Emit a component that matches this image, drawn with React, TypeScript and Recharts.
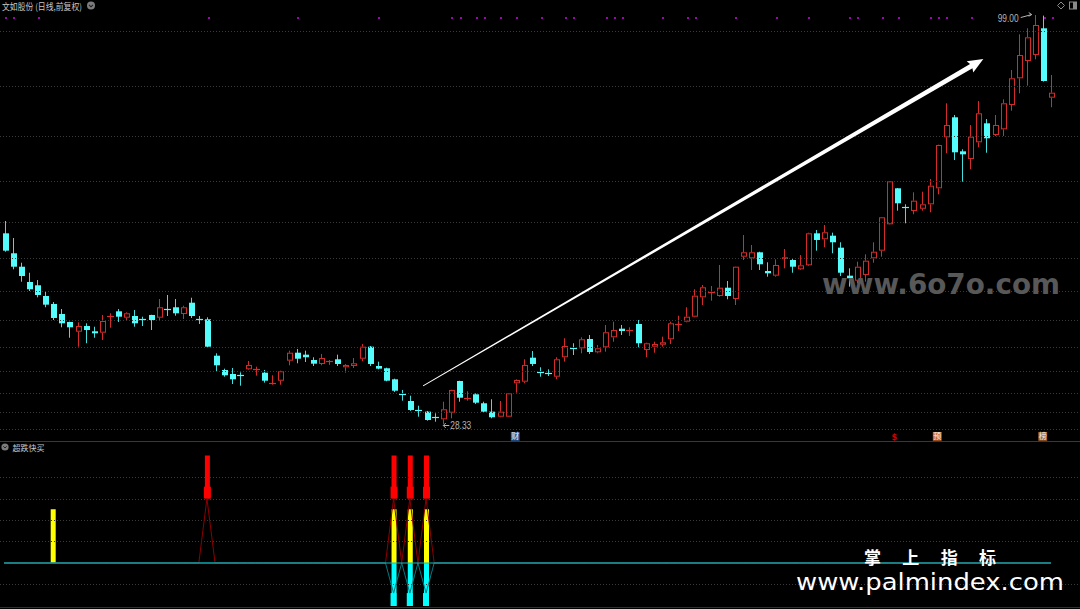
import React from 'react';
import { ComposedChart, Bar, Line, XAxis, YAxis, ReferenceLine, ReferenceDot } from 'recharts';

// ---------- price data (daily candles, 前复权) ----------
const opens = [61.28,57.83,55.51,52.87,52.30,50.45,49.07,47.34,45.96,44.28,45.26,44.35,44.11,46.87,47.80,46.70,46.99,46.53,47.17,46.70,48.25,48.50,47.34,49.29,46.59,46.42,40.13,37.66,36.97,36.92,37.78,37.71,37.19,35.24,35.81,39.27,40.65,40.31,39.39,38.70,39.10,39.51,38.13,38.35,39.61,41.69,38.35,37.96,36.05,33.60,32.30,30.80,30.46,29.65,29.14,30.28,35.76,32.75,33.46,31.91,30.46,29.59,29.59,35.36,35.64,39.79,37.45,37.25,36.50,39.86,41.50,41.41,43.02,40.72,41.58,43.31,44.80,44.45,45.61,41.12,41.69,42.03,42.97,45.60,46.01,46.87,50.22,51.10,50.45,51.88,49.93,57.24,56.96,58.00,54.77,53.96,56.84,56.67,55.06,55.75,61.28,60.25,60.87,58.80,53.96,53.09,54.08,56.96,58.28,62.84,69.06,65.95,65.14,65.53,66.29,69.06,77.87,81.33,75.45,74.12,77.01,80.29,78.27,79.25,83.45,88.07,91.06,92.09,96.71,84.72];
const highs = [63.41,60.47,56.20,54.47,53.21,51.31,49.41,48.20,46.01,45.90,45.73,45.14,47.17,47.46,48.20,47.63,48.03,46.87,47.20,49.93,50.62,49.93,48.77,50.15,46.99,46.77,40.55,37.89,38.01,37.26,39.22,38.23,37.66,36.75,37.54,41.00,41.29,41.00,39.86,40.43,39.39,40.31,38.70,39.73,42.15,41.81,39.10,38.06,36.16,34.21,33.22,31.49,30.58,30.18,32.18,34.25,35.80,33.98,33.63,32.18,32.60,32.30,33.65,36.05,39.51,40.94,38.13,37.78,39.86,43.14,42.28,43.31,43.71,41.98,45.44,46.01,45.44,45.04,46.30,42.38,42.55,43.42,46.01,47.04,48.50,51.61,52.35,52.18,55.81,53.04,55.55,60.99,59.26,58.10,56.27,56.79,58.57,56.96,57.53,61.39,61.85,62.72,61.39,59.73,55.23,56.38,57.65,59.73,64.10,70.30,69.10,66.29,68.37,68.47,70.67,76.60,83.75,81.73,75.80,80.00,84.14,81.03,81.73,84.44,89.50,95.67,96.71,99.00,98.90,88.64];
const lows = [58.10,55.06,52.92,51.31,50.22,48.50,46.30,45.04,43.24,41.69,42.28,43.24,42.85,44.97,45.96,46.18,45.14,45.26,44.57,46.30,46.99,47.04,46.47,46.65,45.61,41.60,37.37,36.50,35.24,34.95,37.66,36.68,35.47,35.12,35.12,38.47,38.82,39.04,38.35,38.47,38.53,38.35,37.19,38.01,39.16,38.35,37.78,35.71,33.86,32.36,30.58,29.59,28.90,28.73,28.33,29.31,32.18,32.36,31.79,30.35,29.31,29.49,29.55,33.74,35.36,38.35,36.50,36.62,36.05,39.10,40.25,40.55,40.43,40.55,40.82,42.55,43.71,43.54,41.58,39.86,40.65,41.69,42.15,44.40,45.90,46.77,48.89,49.64,50.33,49.88,48.89,56.67,54.94,54.94,53.78,53.78,55.23,54.47,54.94,55.63,58.28,58.86,57.83,53.90,52.06,52.64,52.92,56.20,57.24,62.80,65.19,63.01,64.57,65.19,64.91,68.02,75.11,73.95,70.20,72.34,76.14,75.21,78.10,78.10,82.47,85.47,86.79,91.35,87.50,83.06];
const closes = [58.28,55.51,53.90,51.61,50.62,48.95,46.65,45.73,45.04,45.26,44.57,44.00,46.13,47.11,46.87,47.46,45.73,46.30,46.30,48.50,48.03,47.46,48.50,46.99,46.35,41.69,38.47,36.75,36.05,36.68,38.53,37.89,35.81,35.47,37.44,40.65,39.61,39.86,38.75,39.73,39.27,38.70,38.53,38.82,41.69,38.70,37.89,35.81,34.08,33.45,30.75,30.70,29.02,29.55,30.87,34.21,32.87,32.85,32.01,30.46,29.49,30.46,33.63,35.93,38.53,38.70,37.30,37.15,39.51,41.81,41.35,42.97,40.77,41.41,44.18,44.57,44.40,44.60,42.28,42.28,42.15,42.45,45.73,45.75,46.87,50.50,51.95,51.25,51.88,50.45,55.51,58.00,58.00,55.93,54.37,55.81,57.14,55.51,55.75,61.28,60.13,61.46,59.73,54.47,53.51,55.51,56.55,58.10,64.05,70.27,66.47,65.80,66.92,66.29,69.51,76.54,80.00,75.28,74.93,77.98,82.02,77.70,80.00,83.75,88.07,92.09,95.15,97.28,87.60,85.58];

// event dots on the top row (days with notices)
const eventDays = [0,1,4,25,36,46,55,56,58,59,61,63,66,69,70,74,75,76,81,84,85,90,95,99,104,105,108,110,114,115,116,119,128,129];
// info markers under the candles
const infoDays = [63, 110, 115, 128];
const infoTexts = ['财', '$', '预', '榜'];
// price grid levels (equal-ratio)
const gridPrices = [27.38, 30.41, 33.76, 37.49, 41.63, 46.23, 51.33, 57.0, 63.3, 70.28, 78.04, 86.66, 96.23];
const maxDay = 127; const maxPrice = 99.0;
const minDay = 54; const minPrice = 28.33;
// trend arrow (day, price)
const arrowFrom = { x: 51.63, y: 34.9 };
const arrowTo = { x: 120.67, y: 91.4 };

// ---------- 超跌快买 indicator ----------
const yellowDays = [6, 48, 50, 52];
const redDays = [25, 48, 50, 52];
const cyanDays = [48, 50, 52];
const yellowTop = 50;
const redLow = 60, redHigh = 100, redHeadTop = 71;
const redLineVal = 60;
const cyanLineVal = -28;
const cyanBottom = -40;
const subGrid = [80, 60, 40, 20, -20];

const N = opens.length;
const EVENT_Y = 98.49;
const INFO_Y = 26.26;

const priceData = opens.map((o, i) => ({
  i, o, h: highs[i], l: lows[i], c: closes[i],
  mk: eventDays.includes(i) ? EVENT_Y : null,
}));

const subData = opens.map((_, i) => ({
  i,
  zero: 0,
  redLine: redDays.includes(i) ? redLineVal : 0,
  cyanLine: cyanDays.includes(i) ? cyanLineVal : 0,
  yel: yellowDays.includes(i) ? [0, yellowTop] : null,
  redStick: redDays.includes(i) ? [redLow, redHigh] : null,
  redHead: redDays.includes(i) ? [redLow, redHeadTop] : null,
  cyanStick: cyanDays.includes(i) ? [cyanBottom, 0] : null,
  cyanFoot: cyanDays.includes(i) ? [cyanBottom, cyanLineVal] : null,
}));

const RED = '#d42c2a';
const CYAN = '#54fcfc';
const CYAN_WICK = '#44dcdc';
const GRID = '#3a3a3a';
const MARGIN = { top: 0, right: 25, bottom: 0, left: 0 };

const CandleShape = (props: any) => {
  const { x, y, width, height, payload } = props;
  if (!payload || height == null || isNaN(y)) return <g />;
  const { o, h, l, c } = payload;
  const k = h > l ? height / (h - l) : 0;
  const py = (v: number) => y + (h - v) * k;
  const cx = Math.round(x + width / 2);
  const wx = cx + 0.5;
  const up = c >= o;
  const bt = py(Math.max(o, c));
  const bb = py(Math.min(o, c));
  const bodyCol = up ? RED : CYAN;
  const wickCol = up ? RED : CYAN_WICK;
  if (bb - bt < 1.6) {
    const ym = Math.round((bt + bb) / 2) + 0.5;
    return (
      <g>
        <line x1={wx} x2={wx} y1={py(h)} y2={py(l)} stroke={wickCol} strokeWidth={1} />
        <line x1={cx - 3} x2={cx + 4} y1={ym} y2={ym} stroke={bodyCol} strokeWidth={1.2} />
      </g>
    );
  }
  if (up) {
    return (
      <g>
        <line x1={wx} x2={wx} y1={py(h)} y2={bt} stroke={wickCol} strokeWidth={1} />
        <line x1={wx} x2={wx} y1={bb} y2={py(l)} stroke={wickCol} strokeWidth={1} />
        <rect x={cx - 1.5} y={bt + 0.5} width={5} height={Math.max(bb - bt - 1, 0.5)} fill="#000" stroke={RED} strokeWidth={1} />
      </g>
    );
  }
  return (
    <g>
      <line x1={wx} x2={wx} y1={py(h)} y2={py(l)} stroke={wickCol} strokeWidth={1} />
      <rect x={cx - 2} y={bt} width={6} height={bb - bt} fill={CYAN} />
    </g>
  );
};

const GridShape = (p: any) => {
  const yy = Math.round(p.y1) + 0.5;
  return <line x1={0} x2={1080} y1={yy} y2={yy} stroke={GRID} strokeWidth={1} strokeDasharray="1 2" />;
};

const MarkDot = (p: any) => {
  const { cx, cy, value, index } = p;
  if (value == null || cy == null || isNaN(cy)) return <g key={`md${index}`} />;
  return <rect key={`md${index}`} x={Math.round(cx) + 1} y={Math.round(cy) - 1} width={2} height={2} fill="#a400b8" />;
};

const ArrowShape = (p: any) => {
  const { x1, y1, x2, y2 } = p;
  const dx = x2 - x1, dy = y2 - y1;
  const len = Math.hypot(dx, dy) || 1;
  const ux = dx / len, uy = dy / len;
  const nx = -uy, ny = ux;
  const headL = 14, headW = 6.5, w0 = 0.45, w1 = 2.4;
  const bx = x2 - ux * headL, by = y2 - uy * headL;
  const cbx = x2 - ux * (headL + 1.5), cby = y2 - uy * (headL + 1.5);
  const pts = [
    [x1 + nx * w0, y1 + ny * w0],
    [bx + nx * w1, by + ny * w1],
    [cbx + nx * headW, cby + ny * headW],
    [x2, y2],
    [cbx - nx * headW, cby - ny * headW],
    [bx - nx * w1, by - ny * w1],
    [x1 - nx * w0, y1 - ny * w0],
  ].map((q) => q.join(',')).join(' ');
  return <polygon points={pts} fill="#ffffff" />;
};

const MaxLabel = (p: any) => {
  const { cx, cy } = p;
  return (
    <g>
      <text x={cx - 16} y={cy + 6.5} textAnchor="end" fontSize={10} fill="#b4b4b4" fontFamily="Liberation Sans, Arial, sans-serif" textLength={21} lengthAdjust="spacingAndGlyphs">{maxPrice.toFixed(2)}</text>
      <line x1={cx - 14} y1={cy + 2.5} x2={cx - 3} y2={cy - 0.5} stroke="#b4b4b4" strokeWidth={1} />
      <polyline points={`${cx - 6},${cy - 2.5} ${cx - 3},${cy - 0.5} ${cx - 6},${cy + 1.2}`} fill="none" stroke="#b4b4b4" strokeWidth={1} />
    </g>
  );
};

const MinLabel = (p: any) => {
  const { cx, cy } = p;
  return (
    <g>
      <line x1={cx + 1} y1={cy + 1.5} x2={cx + 7} y2={cy + 1.5} stroke="#b4b4b4" strokeWidth={1} />
      <polyline points={`${cx + 3.5},${cy - 1} ${cx + 1},${cy + 1.5} ${cx + 3.5},${cy + 4}`} fill="none" stroke="#b4b4b4" strokeWidth={1} />
      <text x={cx + 8} y={cy + 5} fontSize={10} fill="#b4b4b4" fontFamily="Liberation Sans, Arial, sans-serif" textLength={21} lengthAdjust="spacingAndGlyphs">{minPrice.toFixed(2)}</text>
    </g>
  );
};

const infoBg: Record<string, string> = { '财': '#2c5c98', '预': '#c8642c', '榜': '#a8642c' };

const makeInfo = (t: string) => (p: any) => {
  const { cx, cy } = p;
  if (t === '$') {
    return <text x={cx - 2.5} y={cy + 4} fontSize={8} fontWeight="bold" textAnchor="middle" fill="#d00000" fontFamily="DejaVu Sans, sans-serif">{t}</text>;
  }
  return (
    <g>
      <rect x={cx - 4.5} y={cy - 4} width={8.8} height={8.8} fill={infoBg[t]} />
      <text x={cx - 0.1} y={cy + 3.5} fontSize={8} textAnchor="middle" fill="#f0f0f0" fontFamily="Noto Sans CJK SC">{t}</text>
    </g>
  );
};

export default function App() {
  return (
    <div style={{ position: 'absolute', left: 0, top: 0, width: 1080, height: 609, background: '#000', overflow: 'hidden' }}>
      <div style={{ position: 'absolute', left: 0, top: 0 }}>
        <ComposedChart width={1080} height={441} data={priceData} margin={MARGIN}>
          <XAxis xAxisId="c" dataKey="i" type="category" hide />
          <XAxis xAxisId="n" dataKey="i" type="number" domain={[-0.5, N - 0.5]} allowDataOverflow hide />
          <YAxis yAxisId="p" type="number" domain={[25.39, 101.6]} allowDataOverflow hide />
          {gridPrices.map((g) => (
            <ReferenceLine key={`g${g}`} xAxisId="n" yAxisId="p" ifOverflow="visible"
              segment={[{ x: -0.6, y: g }, { x: 132.7, y: g }]} shape={GridShape} />
          ))}
          <Bar xAxisId="c" yAxisId="p" dataKey={(d: any) => [d.l, d.h]} barSize={7} shape={CandleShape} isAnimationActive={false} />
          <Line xAxisId="c" yAxisId="p" dataKey="mk" stroke="none" dot={MarkDot} activeDot={false} isAnimationActive={false} connectNulls={false} />
          <ReferenceLine xAxisId="n" yAxisId="p" segment={[arrowFrom, arrowTo]} shape={ArrowShape} ifOverflow="visible" />
          <ReferenceDot xAxisId="n" yAxisId="p" x={maxDay} y={maxPrice} shape={MaxLabel} ifOverflow="visible" />
          <ReferenceDot xAxisId="n" yAxisId="p" x={minDay} y={minPrice} shape={MinLabel} ifOverflow="visible" />
          {infoDays.map((d, k) => (
            <ReferenceDot key={`info${d}`} xAxisId="n" yAxisId="p" x={d} y={INFO_Y} shape={makeInfo(infoTexts[k])} ifOverflow="visible" />
          ))}
        </ComposedChart>
      </div>
      <div style={{ position: 'absolute', left: 0, top: 441, width: 1080, height: 1, background: '#383838' }} />
      <div style={{ position: 'absolute', left: 0, top: 441 }}>
        <ComposedChart width={1080} height={168} data={subData} margin={MARGIN}>
          <XAxis xAxisId="a" dataKey="i" type="category" hide />
          <XAxis xAxisId="b" dataKey="i" type="category" hide />
          <XAxis xAxisId="d" dataKey="i" type="category" hide />
          <XAxis xAxisId="e" dataKey="i" type="category" hide />
          <XAxis xAxisId="f" dataKey="i" type="category" hide />
          <XAxis xAxisId="n" dataKey="i" type="number" domain={[-0.5, N - 0.5]} allowDataOverflow hide />
          <YAxis yAxisId="s" type="number" domain={[-42.8, 113.5]} allowDataOverflow hide />
          {subGrid.map((g) => (
            <ReferenceLine key={`sg${g}`} xAxisId="n" yAxisId="s" ifOverflow="visible"
              segment={[{ x: -0.6, y: g }, { x: 132.7, y: g }]} shape={GridShape} />
          ))}
          <Line xAxisId="a" yAxisId="s" dataKey="redLine" stroke="#8c0000" strokeWidth={1} dot={false} activeDot={false} isAnimationActive={false} />
          <Line xAxisId="a" yAxisId="s" dataKey="cyanLine" stroke="#007a80" strokeWidth={1} dot={false} activeDot={false} isAnimationActive={false} />
          <Line xAxisId="a" yAxisId="s" dataKey="zero" stroke="#12c0c8" strokeWidth={1.2} dot={false} activeDot={false} isAnimationActive={false} />
          <Bar xAxisId="a" yAxisId="s" dataKey="yel" barSize={5} fill="#ffff00" isAnimationActive={false} />
          <Bar xAxisId="b" yAxisId="s" dataKey="redStick" barSize={5} fill="#ff0000" isAnimationActive={false} />
          <Bar xAxisId="d" yAxisId="s" dataKey="redHead" barSize={7} fill="#ff0000" isAnimationActive={false} />
          <Bar xAxisId="e" yAxisId="s" dataKey="cyanStick" barSize={5} fill="#00ffff" isAnimationActive={false} />
          <Bar xAxisId="f" yAxisId="s" dataKey="cyanFoot" barSize={6} fill="#00ffff" isAnimationActive={false} />
        </ComposedChart>
      </div>
      <div style={{ position: 'absolute', left: 0, top: 607, width: 1080, height: 1, background: '#303030' }} />
      <svg width={1080} height={609} style={{ position: 'absolute', left: 0, top: 0, pointerEvents: 'none' }}>
        <text x={2} y={9.5} fontSize={9} fill="#c8c8c8" fontFamily="Noto Sans CJK SC" textLength={80} lengthAdjust="spacingAndGlyphs">文如股份 (日线,前复权)</text>
        <circle cx={91} cy={5.5} r={4} fill="#7c7c7c" />
        <polyline points="89,4.8 91,6.8 93,4.8" fill="none" stroke="#222" strokeWidth={1.1} />
        <path d="M1061,2 L1064.5,5.5 L1061,9 L1057.5,5.5 Z" fill="none" stroke="#8a8a8a" strokeWidth={1} />
        <rect x={1069.5} y={2} width={7} height={7} fill="none" stroke="#8a8a8a" strokeWidth={1} />
        <rect x={1073} y={2} width={3.5} height={7} fill="#8a8a8a" />
        <circle cx={5} cy={447} r={3.6} fill="#7c7c7c" />
        <polyline points="3.3,446.3 5,448 6.7,446.3" fill="none" stroke="#222" strokeWidth={1} />
        <text x={12.5} y={451} fontSize={8.5} fill="#c8c8c8" fontFamily="Noto Sans CJK SC" textLength={32} lengthAdjust="spacingAndGlyphs">超跌快买</text>
        <text x={822} y={294} fontSize={29} fontWeight="bold" fill="#585858" fontFamily="DejaVu Sans, sans-serif" textLength={238} lengthAdjust="spacingAndGlyphs">www.6o7o.com</text>
        <text x={864} y={563.5} fontSize={17} fontWeight="bold" fill="#ffffff" fontFamily="Noto Sans CJK SC" textLength={132} lengthAdjust="spacing">掌 上 指 标</text>
        <text x={796} y={590} fontSize={23} fill="#ffffff" fontFamily="DejaVu Sans, sans-serif" textLength={268} lengthAdjust="spacingAndGlyphs">www.palmindex.com</text>
      </svg>
    </div>
  );
}
